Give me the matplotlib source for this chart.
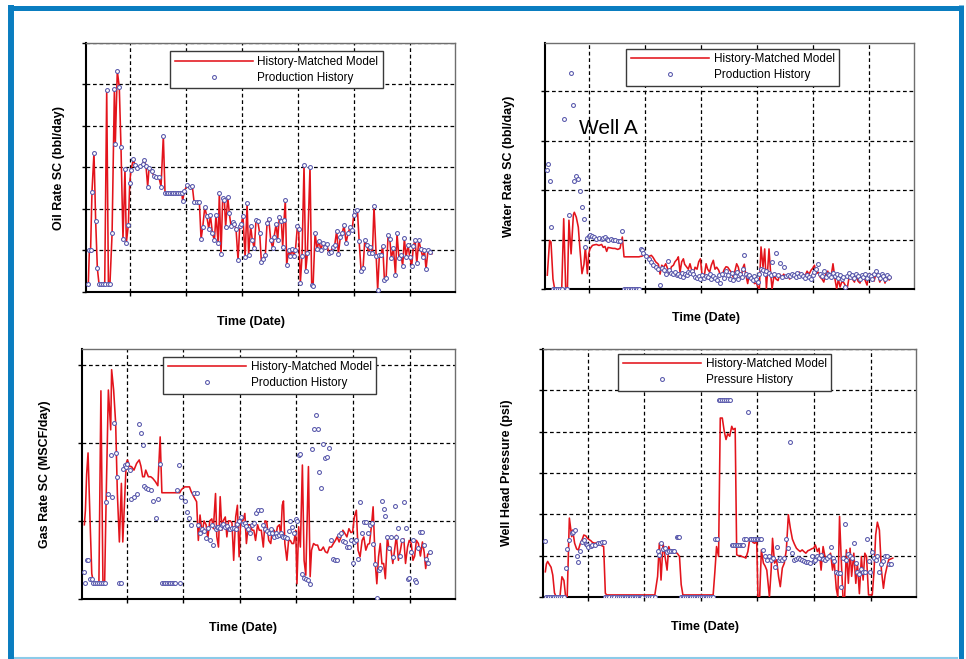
import matplotlib
matplotlib.use("Agg")
import matplotlib.pyplot as plt
from matplotlib.lines import Line2D

plt.rcParams['font.family'] = ['Liberation Sans', 'DejaVu Sans']

# ---------------- data (time in days from start of plotted window) ----------------
t_hist = [15,22,30,39,52,63,74,85,96,109,122,135,146,156,170,185,191,204,217,228,
          241,254,263,276,285,293,309,319,335,352,369,380,391,402,411,428,443,456,474,489,
          504,515,526,537,548,558,569,580,591,602,613,624,630,641,661,678,693,704,721,739,
          750,761,774,787,800,811,824,837,847,861,869,880,891,902,910,924,934,945,956,967,
          978,991,1002,1013,1023,1037,1050,1060,1073,1084,1097,1108,1119,1132,1143,1156,1169,1180,1191,1204,
          1217,1226,1239,1249,1260,1273,1282,1291,1299,1308,1321,1332,1343,1354,1365,1378,1386,1397,1408,1421,
          1432,1443,1460,1471,1480,1493,1506,1519,1530,1543,1556,1569,1582,1595,1608,1621,1634,1645,1658,1671,
          1682,1695,1708,1721,1734,1745,1756,1769,1780,1793,1806,1817,1830,1843,1854,1867,1877,1891,1901,1912,
          1923,1934,1945,1956,1969,1980,1990,2004,2017,2027,2040,2053,2064,2075,2086,2099,2110,2123,2134,2145,
          2156,2169,2182,2195,2206,2216,2229,2243]
t_model = t_hist + [2255]
year_ticks = [287, 652, 1017, 1382, 1747, 2112]

oil_hist = [19,101,101,242,336,171,57,19,19,19,
            19,487,19,19,141,488,357,533,493,350,
            127,296,119,161,262,294,320,306,298,304,
            308,318,304,254,298,292,279,276,278,254,
            376,239,239,239,239,239,239,239,239,239,
            239,239,220,244,258,254,255,218,218,216,
            127,157,204,183,153,185,141,125,185,119,
            238,92,226,222,156,228,190,159,169,164,
            151,77,159,164,183,84,214,89,159,125,
            105,173,172,141,73,79,89,167,177,125,
            105,133,164,125,181,172,109,173,222,65,
            101,87,103,87,101,159,151,22,87,306,
            51,93,302,17,14,143,103,124,101,117,
            109,116,95,97,109,113,148,92,133,143,
            161,119,141,156,149,185,196,198,124,51,
            59,125,113,95,108,95,207,87,5,89,
            89,111,29,33,137,127,81,105,41,141,
            81,89,63,129,84,113,84,63,111,125,
            69,125,103,84,101,55,100,97]
# oil rate was the matching constraint: the model follows the history points
oil_model = oil_hist + [92]

water_hist = [241,253,219,125,0,0,0,0,0,0,
              343,0,0,149,437,371,219,229,223,198,
              166,142,85,104,108,110,108,106,102,104,
              101,103,105,102,99,101,100,98,96,97,
              118,0,0,0,0,0,0,0,0,0,
              0,80,78,72,66,60,55,48,45,40,
              9,42,38,30,57,38,32,30,34,28,
              30,26,32,24,30,28,34,32,36,30,
              24,22,26,20,28,22,26,24,30,20,
              26,22,18,28,12,30,22,36,28,20,
              32,18,26,34,20,30,24,40,68,30,
              26,28,22,18,26,20,14,30,40,38,
              30,36,32,28,55,30,73,28,53,24,
              44,26,28,26,30,28,24,32,26,30,
              26,22,28,24,20,28,34,40,51,30,
              26,36,24,30,28,24,32,26,30,22,
              28,20,24,5,26,32,24,28,22,30,
              26,20,28,24,30,22,28,26,20,30,
              36,28,22,30,26,20,28,24]
water_model = [28,60,98,95,20,0,0,0,0,0,
               142,0,0,139,71,150,155,145,125,80,
               31,50,85,31,71,81,88,89,90,88,
               90,84,86,76,84,83,82,82,80,82,
               105,65,65,65,65,65,65,65,65,65,
               65,66,66,68,68,66,68,64,55,50,
               30,48,44,51,40,31,45,48,55,60,
               65,34,55,61,50,44,40,51,38,31,
               44,40,55,61,30,24,51,40,34,48,
               58,40,44,38,28,30,40,45,44,38,
               33,24,38,51,44,24,30,44,50,30,
               11,31,24,20,11,12,5,0,85,44,
               81,0,81,30,0,28,20,17,30,24,
               30,22,28,20,26,30,22,28,34,24,
               30,26,36,30,38,42,48,31,34,24,
               20,14,30,36,24,30,51,18,0,20,
               4,14,14,8,0,20,31,20,14,28,
               16,12,24,24,18,8,30,24,30,16,
               30,30,14,24,24,12,26,18,23]

gas_hist = [68,41,101,101,50,50,40,40,40,40,
            40,40,40,249,270,368,262,450,373,313,
            40,40,332,342,338,345,330,257,262,270,
            447,425,393,290,285,282,280,250,208,256,
            345,40,40,40,40,40,40,40,40,40,
            280,343,40,262,250,223,208,190,272,272,
            190,168,180,175,155,182,152,190,138,180,
            185,185,183,190,192,185,188,180,180,182,
            182,178,192,200,210,192,195,188,180,170,
            190,195,220,228,105,228,190,180,175,170,
            180,170,160,168,162,165,170,162,160,158,
            155,175,200,185,170,205,200,368,370,65,
            55,52,48,39,384,434,471,434,326,283,
            398,360,364,386,150,103,99,99,165,170,
            148,145,134,132,150,91,145,150,103,249,
            170,197,197,170,190,195,140,90,2,73,
            80,251,230,212,160,130,160,108,239,160,
            183,110,150,249,183,52,55,120,150,48,
            44,130,172,172,138,103,92,120]
gas_model = [190,227,320,374,200,65,41,41,41,41,
             533,41,41,262,535,433,587,535,450,270,
             146,296,146,262,347,356,339,339,330,347,
             356,340,313,313,330,313,313,309,300,290,
             415,272,272,272,272,272,272,272,272,272,
             272,272,272,280,287,287,287,275,262,249,
             150,215,168,200,190,155,200,205,180,270,
             160,133,262,176,200,210,159,200,200,195,
             99,210,240,108,200,200,219,142,190,190,
             176,176,150,190,176,176,133,200,198,150,
             142,176,176,160,185,190,160,240,251,142,
             99,150,150,142,142,176,39,185,133,343,
             99,61,339,57,125,142,138,138,125,125,
             133,121,118,133,133,142,150,159,146,160,
             176,168,159,180,170,172,210,227,125,108,
             150,159,125,140,142,190,236,91,39,108,
             142,90,91,52,159,125,133,91,130,163,
             99,125,150,154,91,133,150,142,99,110,
             150,142,110,146,120,78,115,116,118]

pres_hist = [136,0,0,0,0,0,0,0,0,0,
             0,0,71,116,138,154,158,162,98,84,
             111,133,137,128,125,121,123,125,127,130,
             131,132,132,0,0,0,0,0,0,0,
             0,0,0,0,0,0,0,0,0,0,
             0,0,0,0,0,0,0,0,0,112,
             102,130,115,118,110,112,112,112,112,145,
             145,145,0,0,0,0,0,0,0,0,
             0,0,0,0,0,0,0,0,0,0,
             0,140,140,477,477,477,477,477,477,477,
             126,126,126,126,126,126,126,126,140,140,
             448,140,140,140,140,140,140,140,140,114,
             98,90,98,90,95,72,120,90,95,90,
             95,140,118,376,106,90,92,95,92,90,
             88,85,85,82,98,87,90,100,95,102,
             93,90,95,98,120,95,87,60,57,57,
             23,95,176,90,103,98,95,130,82,60,
             55,67,60,60,140,86,60,110,95,90,
             98,60,80,87,98,100,80,80]
pres_model = [61,80,86,80,72,53,10,0,0,0,
              49,40,0,0,191,146,162,130,116,114,
              130,140,150,148,143,140,136,132,130,132,
              126,124,122,9,5,5,5,5,5,5,
              5,5,5,5,5,5,5,5,5,5,
              5,5,5,5,5,5,5,5,5,50,
              130,41,130,98,65,122,106,110,108,107,
              104,98,30,5,5,5,5,5,5,5,
              5,5,5,5,5,5,5,5,5,5,
              5,60,122,98,433,433,400,381,395,389,
              413,405,408,102,100,100,98,97,96,94,
              110,138,138,132,130,134,0,0,114,82,
              75,65,0,65,142,82,90,49,25,70,
              82,114,199,166,140,128,118,114,110,114,
              110,106,112,114,117,118,126,110,118,65,
              122,100,90,100,106,65,90,20,0,195,
              90,0,0,114,33,118,50,106,33,82,
              8,98,41,106,98,5,5,5,60,150,
              181,162,65,21,53,70,90,92,94]

# ---------------- figure ----------------
W, H = 966, 659
fig = plt.figure(figsize=(W / 100, H / 100), dpi=100)
fig.patch.set_facecolor('white')

RED = '#e3141c'
BLUE = '#5555aa'

def px_axes(l, r, t, b):
    return fig.add_axes([l / W, 1 - b / H, (r - l) / W, (b - t) / H])

panels = [
    dict(box=(86, 455, 43, 292), hist=oil_hist, model=oil_model, ylim=600, yt=range(0, 601, 100),
         ylabel='Oil Rate SC (bbl/day)', hist_label='Production History',
         leg=(0.228, 0.966), ylab_x=-0.057, xlab=(0.446, -0.096)),
    dict(box=(545, 914, 43, 289), hist=water_hist, model=water_model, ylim=497, yt=range(0, 401, 100),
         ylabel='Water Rate SC (bbl/day)', hist_label='Production History',
         leg=(0.220, 0.977), ylab_x=-0.081, xlab=(0.435, -0.093)),
    dict(box=(82, 455, 349, 599), hist=gas_hist, model=gas_model, ylim=640, yt=range(0, 601, 200),
         ylabel='Gas Rate SC (MSCF/day)', hist_label='Production History',
         leg=(0.218, 0.969), ylab_x=-0.083, xlab=(0.432, -0.092)),
    dict(box=(543, 916, 349, 597), hist=pres_hist, model=pres_model, ylim=600, yt=range(0, 601, 100),
         ylabel='Well Head Pressure (psi)', hist_label='Pressure History',
         leg=(0.202, 0.981), ylab_x=-0.080, xlab=(0.434, -0.097)),
]

for p in panels:
    ax = px_axes(*p['box'])
    ax.plot(t_model, p['model'], color=RED, lw=1.15, zorder=3, label='History-Matched Model')
    ax.plot(t_hist, p['hist'], linestyle='none', marker='o', markersize=2.8,
            markerfacecolor='white', markeredgecolor=BLUE, markeredgewidth=0.75,
            zorder=4, label=p['hist_label'])
    ax.set_xlim(0, 2405)
    ax.set_ylim(0, p['ylim'])
    ax.set_xticks(year_ticks)
    ax.set_yticks(list(p['yt']))
    ax.grid(True, color='black', linestyle=(0, (3, 2.2)), linewidth=0.9)
    ax.set_axisbelow(True)
    ax.tick_params(axis='both', direction='out', length=3, width=1.0, color='black',
                   labelleft=False, labelbottom=False)
    for s in ('left', 'bottom'):
        ax.spines[s].set_color('black')
        ax.spines[s].set_linewidth(1.5)
    for s in ('top', 'right'):
        ax.spines[s].set_color('#6e6e6e')
        ax.spines[s].set_linewidth(1.0)
    ax.set_ylabel(p['ylabel'], fontsize=9, fontweight='bold')
    ax.yaxis.set_label_coords(p['ylab_x'], 0.5)
    ax.set_xlabel('Time (Date)', fontsize=9, fontweight='bold')
    ax.xaxis.set_label_coords(*p['xlab'])
    leg = ax.legend(loc='upper left', bbox_to_anchor=p['leg'], borderaxespad=0,
                    fontsize=8.5, frameon=True, fancybox=False, framealpha=1,
                    edgecolor='#3a3a3a', handlelength=6.6, handletextpad=0.4,
                    borderpad=0.4, labelspacing=0.3, numpoints=1)
    leg.get_frame().set_linewidth(1.0)
    leg.set_zorder(10)
    if p['ylabel'].startswith('Water'):
        ax.text(0.092, 0.654, 'Well A', transform=ax.transAxes, fontsize=15,
                ha='left', va='center', color='black', zorder=6)

# ---------------- blue frame ----------------
FR = '#0a7dc0'
fig.add_artist(Line2D([11 / W, 11 / W], [1 - 5 / H, 0], transform=fig.transFigure,
                      color=FR, lw=4.3, solid_capstyle='butt'))
fig.add_artist(Line2D([960.5 / W, 960.5 / W], [1 - 5 / H, 0], transform=fig.transFigure,
                      color=FR, lw=3.6, solid_capstyle='butt'))
fig.add_artist(Line2D([8 / W, 963 / W], [1 - 7.5 / H, 1 - 7.5 / H], transform=fig.transFigure,
                      color=FR, lw=3.6, solid_capstyle='butt'))
fig.add_artist(Line2D([14 / W, 958 / W], [1 - 658 / H, 1 - 658 / H], transform=fig.transFigure,
                      color='#8ccbe9', lw=1.5, solid_capstyle='butt'))

fig.savefig('out.png', dpi=100, facecolor='white')
